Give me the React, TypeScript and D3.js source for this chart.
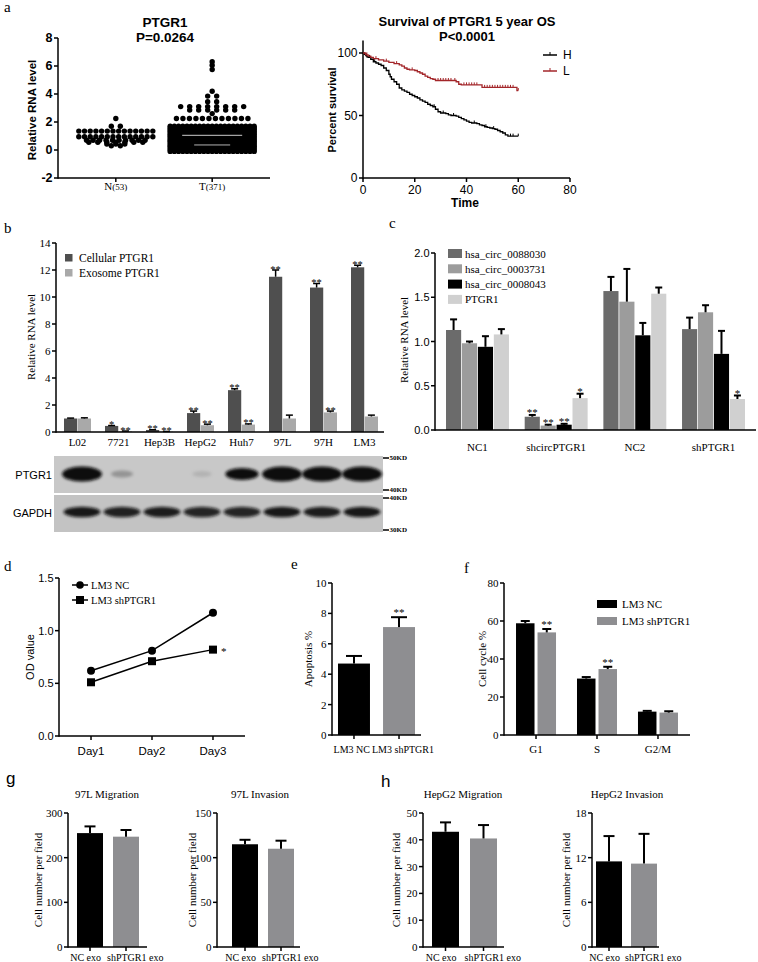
import React from "react";
import * as d3 from "d3";

const SERIF = "'Liberation Serif','Times New Roman',Times,serif";
const SANS = "'Liberation Sans',Arial,Helvetica,sans-serif";

/* ---------------- panel a (left) : scatter ---------------- */
const A_GROUPS = ["N", "T"];
const A_COUNTS = ["(53)", "(371)"];
const A_TICKS = [-2, 0, 2, 4, 6, 8];
// [value, number of dots read at that level]
const A_N_ROWS: [number, number][] = [
  [2.25, 1], [1.7, 2], [1.35, 14], [0.95, 14], [0.7, 10], [0.55, 7], [0.42, 3], [0.3, 2],
];
const A_T_ROWS: [number, number][] = [
  [6.3, 1], [6.05, 1], [5.75, 1], [4.2, 1], [3.85, 2], [3.45, 2], [3.1, 8], [2.85, 6], [2.6, 1], [2.25, 12],
  [1.7, 21], [1.58, 21], [1.46, 21], [1.34, 21], [1.22, 21], [1.1, 21], [0.98, 21], [0.86, 21],
  [0.74, 21], [0.62, 21], [0.5, 21], [0.38, 21], [0.26, 21], [0.14, 21], [0.02, 21], [-0.1, 21],
];

/* ---------------- panel a (right) : survival ---------------- */
const S_XTICKS = [0, 20, 40, 60, 80];
const S_YTICKS = [0, 50, 100];
const SURV_H: [number, number][] = [
  [0, 100], [0.5, 99], [1, 98], [1.5, 97], [2, 96.5], [3, 95], [4, 93], [5, 92], [6, 91], [7, 90], [8, 88], [9, 86],
  [10, 83], [10.5, 81], [11, 79], [12, 77], [13, 75], [14, 72], [15, 70.5], [16, 69.5], [17, 68.5], [18, 67], [19, 66],
  [20, 65], [21, 64], [22, 62.5], [23, 61.5], [24, 60.5], [25, 59], [26, 58], [27, 57], [28, 55], [29, 53], [30, 52],
  [32, 51.5], [33, 50.5], [34, 50], [36, 49.5], [37, 48.5], [38, 47.5], [39, 46.5], [40, 45.5], [41, 44.5], [42, 44],
  [44, 43.5], [45, 42.5], [46, 42], [47, 41], [48, 40.5], [49, 40], [50, 39.5], [51, 39], [52, 38], [53, 37], [54, 36],
  [55, 34.5], [56, 33.5], [60, 33.5],
];
const SURV_L: [number, number][] = [
  [0, 100], [1, 98.5], [2, 97.5], [3, 96.5], [4, 95.5], [6, 94.5], [8, 93.5], [10, 92.5], [12, 91.5], [14, 90.5],
  [15, 89.5], [16, 88], [17, 87], [18, 86.5], [20, 86], [21, 85], [22, 84], [23, 83], [24, 81.5], [25, 80.5],
  [26, 79.5], [27, 79], [28, 78], [35, 78], [36, 77], [37, 75], [38, 74.5], [45, 74.5], [46, 72.5], [59, 72.5],
  [59.5, 70], [60, 70],
];
const CENS_H = [1.2, 2.5, 4.5, 27.5, 31, 35, 43, 47.5, 50.5, 57, 58, 60];
const CENS_L = [1.5, 5, 9, 13, 19, 29, 30, 31, 32, 33, 34, 35.5, 39, 40, 41, 42, 43, 44, 47, 48, 49, 50, 51, 52, 53, 54, 55, 56, 57, 58, 60];
const S_LEGEND = ["H", "L"];

/* ---------------- panel b ---------------- */
const B_CELLS = ["L02", "7721", "Hep3B", "HepG2", "Huh7", "97L", "97H", "LM3"];
const B_SERIES = ["Cellular PTGR1", "Exosome PTGR1"];
const B_CELLULAR = [1.0, 0.45, 0.15, 1.4, 3.1, 11.5, 10.7, 12.2];
const B_CELLULAR_ERR = [0.03, 0.03, 0.02, 0.15, 0.1, 0.5, 0.3, 0.15];
const B_EXOSOME = [1.0, 0.05, 0.03, 0.5, 0.55, 1.0, 1.45, 1.15];
const B_EXOSOME_ERR = [0.05, 0.02, 0.01, 0.08, 0.05, 0.25, 0.1, 0.1];
const B_CELL_STARS = ["", "*", "**", "**", "**", "**", "**", "**"];
const B_EXO_STARS = ["", "**", "**", "**", "**", "", "**", ""];
const B_TICKS = [0, 2, 4, 6, 8, 10, 12, 14];
const BLOT_PTGR1 = [1, 0.2, 0, 0.08, 0.7, 1, 1, 1];
const BLOT_GAPDH = [0.95, 0.9, 0.92, 0.88, 0.88, 0.95, 0.92, 0.95];
const BLOT_MARKERS = ["50KD", "40KD", "40KD", "30KD"];

/* ---------------- panel c ---------------- */
const C_GROUPS = ["NC1", "shcircPTGR1", "NC2", "shPTGR1"];
const C_SERIES = ["hsa_circ_0088030", "hsa_circ_0003731", "hsa_circ_0008043", "PTGR1"];
const C_0088030 = [1.13, 0.15, 1.57, 1.14];
const C_0088030_ERR = [0.12, 0.02, 0.16, 0.13];
const C_0003731 = [0.98, 0.05, 1.45, 1.33];
const C_0003731_ERR = [0.02, 0.01, 0.37, 0.08];
const C_0008043 = [0.94, 0.06, 1.07, 0.86];
const C_0008043_ERR = [0.12, 0.01, 0.14, 0.26];
const C_PTGR1 = [1.08, 0.36, 1.54, 0.35];
const C_PTGR1_ERR = [0.06, 0.05, 0.07, 0.04];
const C_STARS = [
  ["", "**", "", ""],
  ["", "**", "", ""],
  ["", "**", "", ""],
  ["", "*", "", "*"],
];
const C_TICKS = [0, 0.5, 1.0, 1.5, 2.0];

/* ---------------- panel d ---------------- */
const D_DAYS = ["Day1", "Day2", "Day3"];
const D_SERIES = ["LM3 NC", "LM3 shPTGR1"];
const D_NC = [0.62, 0.81, 1.17];
const D_SH = [0.51, 0.71, 0.82];
const D_TICKS = [0, 0.5, 1.0, 1.5];

/* ---------------- panel e ---------------- */
const E_GROUPS = ["LM3 NC", "LM3 shPTGR1"];
const E_VALUES = [4.7, 7.1];
const E_ERR = [0.5, 0.65];
const E_STARS = ["", "**"];
const E_TICKS = [0, 2, 4, 6, 8, 10];

/* ---------------- panel f ---------------- */
const F_PHASES = ["G1", "S", "G2/M"];
const F_SERIES = ["LM3 NC", "LM3 shPTGR1"];
const F_NC = [58.8, 29.7, 12.3];
const F_NC_ERR = [1.2, 0.8, 0.4];
const F_SH = [54.0, 34.7, 11.8];
const F_SH_ERR = [1.8, 1.2, 0.7];
const F_STARS = ["**", "**", ""];
const F_TICKS = [0, 20, 40, 60, 80];

/* ---------------- panels g, h ---------------- */
const GH_GROUPS = ["NC exo", "shPTGR1 exo"];
const G_MIG = [255, 247];
const G_MIG_ERR = [15, 15];
const G_INV = [115, 110];
const G_INV_ERR = [5, 9];
const H_MIG = [43, 40.5];
const H_MIG_ERR = [3.5, 5];
const H_INV = [11.5, 11.2];
const H_INV_ERR = [3.4, 4.0];
const G_MIG_TICKS = [0, 100, 200, 300];
const G_INV_TICKS = [0, 50, 100, 150];
const H_MIG_TICKS = [0, 10, 20, 30, 40, 50];
const H_INV_TICKS = [0, 6, 12, 18];

/* ---------------- helpers ---------------- */
type Lin = d3.ScaleLinear<number, number>;

function YAxis(p: {
  x: number; y: Lin; ticks: number[]; fmt?: (t: number) => string; font?: string; size?: number;
  weight?: string | number; tick?: number; top?: number; sw?: number;
}) {
  const { x, y, ticks, fmt = (t) => String(t), font = SERIF, size = 11, weight = "normal", tick = 4, sw = 1.5 } = p;
  const [y0, y1] = y.range();
  return (
    <g>
      <line x1={x} x2={x} y1={y0 + sw / 2} y2={p.top ?? y1} stroke="#000" strokeWidth={sw} />
      {ticks.map((t) => (
        <g key={t}>
          <line x1={x - tick} x2={x} y1={y(t)} y2={y(t)} stroke="#000" strokeWidth={sw} />
          <text x={x - tick - 1.5} y={y(t)} textAnchor="end" dominantBaseline="central"
            fontFamily={font} fontSize={size} fontWeight={weight}>{fmt(t)}</text>
        </g>
      ))}
    </g>
  );
}

function ErrBar({ cx, y, v, e, cw, sw = 1.5 }: { cx: number; y: Lin; v: number; e: number; cw: number; sw?: number }) {
  return (
    <g stroke="#000" strokeWidth={sw}>
      <line x1={cx} x2={cx} y1={y(v)} y2={y(v + e)} />
      <line x1={cx - cw / 2} x2={cx + cw / 2} y1={y(v + e)} y2={y(v + e)} />
    </g>
  );
}

function VLabel({ x, y, text, font = SERIF, size = 11, weight = "normal" }:
  { x: number; y: number; text: string; font?: string; size?: number; weight?: string | number }) {
  return (
    <text transform={`translate(${x},${y}) rotate(-90)`} textAnchor="middle" dominantBaseline="central"
      fontFamily={font} fontSize={size} fontWeight={weight}>{text}</text>
  );
}

function Letter({ x, y, t, font = SERIF, size = 15 }: { x: number; y: number; t: string; font?: string; size?: number }) {
  return <text x={x} y={y} fontFamily={font} fontSize={size}>{t}</text>;
}

/* ---------------- panel a left ---------------- */
function PanelA1() {
  const y = d3.scaleLinear().domain([-2, 8]).range([178, 38]);
  const x = d3.scalePoint<string>().domain(A_GROUPS).range([58, 270]).padding(0.6);
  const dots: [number, number][] = [];
  [A_N_ROWS, A_T_ROWS].forEach((rows, gi) => {
    const cx = x(A_GROUPS[gi])!;
    const maxW = gi === 0 ? 74 : 84;
    rows.forEach(([v, n]) => {
      const sp = n > 1 ? Math.min(n <= 8 ? 9 : 6.5, maxW / (n - 1)) : 0;
      for (let i = 0; i < n; i++) dots.push([cx + (i - (n - 1) / 2) * sp, y(v)]);
    });
  });
  const tx = x("T")!;
  return (
    <g>
      <text x={165} y={27} textAnchor="middle" fontFamily={SANS} fontWeight="bold" fontSize={13.5}>PTGR1</text>
      <text x={165} y={42} textAnchor="middle" fontFamily={SANS} fontWeight="bold" fontSize={13.5}>P=0.0264</text>
      <YAxis x={58} y={y} ticks={A_TICKS} font={SANS} size={12.5} weight="bold" sw={1.5} />
      <line x1={58} x2={270} y1={178} y2={178} stroke="#000" strokeWidth={1.5} />
      {A_GROUPS.map((g, i) => (
        <g key={g}>
          <line x1={x(g)} x2={x(g)} y1={178} y2={182} stroke="#000" strokeWidth={1.5} />
          <text x={x(g)} y={190} textAnchor="middle" fontFamily={SERIF} fontSize={11}>
            {g}<tspan fontSize={9}>{A_COUNTS[i]}</tspan>
          </text>
        </g>
      ))}
      {dots.map((d, i) => <circle key={i} cx={d[0]} cy={d[1]} r={2.7} fill="#000" />)}
      <line x1={tx - 30} x2={tx + 30} y1={y(1.05)} y2={y(1.05)} stroke="#fff" strokeWidth={1} opacity={0.8} />
      <line x1={tx - 18} x2={tx + 18} y1={y(0.36)} y2={y(0.36)} stroke="#fff" strokeWidth={1} opacity={0.7} />
      <VLabel x={32} y={110} text="Relative RNA level" font={SANS} size={11.5} weight="bold" />
    </g>
  );
}

/* ---------------- panel a right ---------------- */
function survAt(steps: [number, number][], t: number) {
  let s = steps[0][1];
  for (const [tt, ss] of steps) if (tt <= t) s = ss;
  return s;
}

function PanelA2() {
  const x = d3.scaleLinear().domain([0, 80]).range([363, 570]);
  const y = d3.scaleLinear().domain([0, 110]).range([178, 40.5]);
  const line = d3.line<[number, number]>().x((d) => x(d[0])).y((d) => y(d[1])).curve(d3.curveStepAfter);
  const curves = [
    { data: SURV_H, cens: CENS_H, color: "#000" },
    { data: SURV_L, cens: CENS_L, color: "#a3262a" },
  ];
  return (
    <g>
      <text x={467} y={26} textAnchor="middle" fontFamily={SANS} fontWeight="bold" fontSize={13}>Survival of PTGR1 5 year OS</text>
      <text x={467} y={41} textAnchor="middle" fontFamily={SANS} fontWeight="bold" fontSize={13}>P&lt;0.0001</text>
      <YAxis x={363} y={y} ticks={S_YTICKS} font={SANS} size={12} top={40.5} />
      <line x1={363} x2={570} y1={178} y2={178} stroke="#000" strokeWidth={1.5} />
      {S_XTICKS.map((t) => (
        <g key={t}>
          <line x1={x(t)} x2={x(t)} y1={178} y2={182} stroke="#000" strokeWidth={1.5} />
          <text x={x(t)} y={190} textAnchor="middle" dominantBaseline="central" fontFamily={SANS} fontSize={12}>{t}</text>
        </g>
      ))}
      {curves.map((c, i) => (
        <g key={i}>
          <path d={line(c.data)!} fill="none" stroke={c.color} strokeWidth={1.3} />
          {c.cens.map((t, j) => (
            <line key={j} x1={x(t)} x2={x(t)} y1={y(survAt(c.data, t)) - 2.5} y2={y(survAt(c.data, t))}
              stroke={c.color} strokeWidth={1} />
          ))}
        </g>
      ))}
      {S_LEGEND.map((l, i) => (
        <g key={l}>
          <line x1={543} x2={557} y1={55 + i * 16} y2={55 + i * 16} stroke={curves[i].color} strokeWidth={1.5} />
          <line x1={550} x2={550} y1={52 + i * 16} y2={55 + i * 16} stroke={curves[i].color} strokeWidth={1} />
          <text x={563} y={55 + i * 16} dominantBaseline="central" fontFamily={SANS} fontSize={12}>{l}</text>
        </g>
      ))}
      <text x={465} y={207} textAnchor="middle" fontFamily={SANS} fontWeight="bold" fontSize={12}>Time</text>
      <VLabel x={332} y={110} text="Percent survival" font={SANS} size={11} weight="bold" />
    </g>
  );
}

/* ---------------- panel b ---------------- */
function PanelB() {
  const y = d3.scaleLinear().domain([0, 14]).range([432, 243]);
  const x = d3.scaleBand<string>().domain(B_CELLS).range([56, 386]).paddingInner(0.3415).paddingOuter(0.195);
  const xi = d3.scaleBand<string>().domain(B_SERIES).range([0, x.bandwidth()]).paddingInner(0.04);
  const colors = ["#4f4f4f", "#a9a9a9"];
  const series = [
    { v: B_CELLULAR, e: B_CELLULAR_ERR, s: B_CELL_STARS },
    { v: B_EXOSOME, e: B_EXOSOME_ERR, s: B_EXO_STARS },
  ];
  const lane = d3.scaleBand<string>().domain(B_CELLS).range([62, 382]);
  return (
    <g>
      {B_CELLS.map((c, i) => (
        <g key={c}>
          {series.map((s, k) => {
            const bx = x(c)! + xi(B_SERIES[k])!;
            const cx = bx + xi.bandwidth() / 2;
            return (
              <g key={k}>
                <rect x={bx} y={y(s.v[i])} width={xi.bandwidth()} height={y(0) - y(s.v[i])} fill={colors[k]} />
                <ErrBar cx={cx} y={y} v={s.v[i]} e={s.e[i]} cw={7} />
                {s.s[i] && (
                  <text x={cx} y={y(s.v[i] + s.e[i]) + 2.5} textAnchor="middle" fontFamily={SERIF} fontSize={10.5}>{s.s[i]}</text>
                )}
              </g>
            );
          })}
          <text x={x(c)! + x.bandwidth() / 2} y={446} textAnchor="middle" fontFamily={SERIF} fontSize={11}>{c}</text>
        </g>
      ))}
      <YAxis x={56} y={y} ticks={B_TICKS} size={11} />
      <line x1={56} x2={384} y1={432} y2={432} stroke="#000" strokeWidth={1.5} />
      {B_SERIES.map((s, k) => (
        <g key={s}>
          <rect x={65} y={254 + k * 15} width={7.5} height={7.5} fill={colors[k]} />
          <text x={79} y={258 + k * 15} dominantBaseline="central" fontFamily={SERIF} fontSize={11.5}>{s}</text>
        </g>
      ))}
      <VLabel x={31} y={337} text="Relative RNA level" size={11} />
      {/* western blot */}
      <defs>
        <filter id="bl" x="-30%" y="-80%" width="160%" height="260%">
          <feGaussianBlur stdDeviation="1.6" />
        </filter>
      </defs>
      <rect x={54} y={456} width={329} height={37} fill="#c8c8c8" />
      <rect x={54} y={495} width={329} height={37} fill="#c3c3c3" />
      {B_CELLS.map((c, i) => {
        const cx = lane(c)! + lane.bandwidth() / 2;
        const a = BLOT_PTGR1[i];
        const g = BLOT_GAPDH[i];
        return (
          <g key={c} filter="url(#bl)">
            {a > 0 && (
              <ellipse cx={cx} cy={474} rx={9 + 11 * a} ry={2.5 + 5 * a} fill="#0d0d0d" opacity={a < 0.5 ? a * 1.3 : 1} />
            )}
            <ellipse cx={cx} cy={512} rx={18.5} ry={5.2} fill="#111" opacity={g} />
          </g>
        );
      })}
      <text x={52} y={475} textAnchor="end" dominantBaseline="central" fontFamily={SANS} fontSize={11}>PTGR1</text>
      <text x={52} y={513} textAnchor="end" dominantBaseline="central" fontFamily={SANS} fontSize={11}>GAPDH</text>
      {BLOT_MARKERS.map((m, i) => {
        const yy = [458, 490, 498, 530][i];
        return (
          <g key={i}>
            <line x1={383} x2={389} y1={yy} y2={yy} stroke="#000" strokeWidth={1.5} />
            <text x={389.5} y={yy} dominantBaseline="central" fontFamily={SERIF} fontSize={7} fontWeight="bold">{m}</text>
          </g>
        );
      })}
    </g>
  );
}

/* ---------------- panel c ---------------- */
function PanelC() {
  const y = d3.scaleLinear().domain([0, 2]).range([430, 253]);
  const x = d3.scaleBand<string>().domain(C_GROUPS).range([435, 756]).paddingInner(0.2).paddingOuter(0.14);
  const xi = d3.scaleBand<string>().domain(C_SERIES).range([0, x.bandwidth()]).paddingInner(0.05);
  const colors = ["#6b6b6b", "#9c9c9c", "#000000", "#d0d0d0"];
  const vals = [C_0088030, C_0003731, C_0008043, C_PTGR1];
  const errs = [C_0088030_ERR, C_0003731_ERR, C_0008043_ERR, C_PTGR1_ERR];
  return (
    <g>
      {C_GROUPS.map((g, i) => (
        <g key={g}>
          {C_SERIES.map((s, k) => {
            const bx = x(g)! + xi(s)!;
            const cx = bx + xi.bandwidth() / 2;
            const v = vals[k][i];
            const e = errs[k][i];
            return (
              <g key={s}>
                <rect x={bx} y={y(v)} width={xi.bandwidth()} height={y(0) - y(v)} fill={colors[k]} />
                <ErrBar cx={cx} y={y} v={v} e={e} cw={7} sw={2} />
                {C_STARS[k][i] && (
                  <text x={cx} y={y(v + e) + 1.5} textAnchor="middle" fontFamily={SERIF} fontSize={11}>{C_STARS[k][i]}</text>
                )}
              </g>
            );
          })}
          <text x={x(g)! + x.bandwidth() / 2} y={451} textAnchor="middle" fontFamily={SERIF} fontSize={11}>{g}</text>
        </g>
      ))}
      <YAxis x={435} y={y} ticks={C_TICKS} fmt={(t) => t.toFixed(1)} font={SANS} size={11} />
      <line x1={435} x2={756} y1={430} y2={430} stroke="#000" strokeWidth={1.5} />
      {C_SERIES.map((s, k) => (
        <g key={s}>
          <rect x={448} y={249 + k * 15.3} width={14} height={9} fill={colors[k]} />
          <text x={465} y={253.5 + k * 15.3} dominantBaseline="central" fontFamily={SERIF} fontSize={11}>{s}</text>
        </g>
      ))}
      <VLabel x={404} y={340} text="Relative RNA level" size={11} />
    </g>
  );
}

/* ---------------- panel d ---------------- */
function PanelD() {
  const y = d3.scaleLinear().domain([0, 1.5]).range([736, 578]);
  const x = d3.scalePoint<string>().domain(D_DAYS).range([59, 245]).padding(0.525);
  const line = d3.line<number>().x((_, i) => x(D_DAYS[i])!).y((d) => y(d));
  return (
    <g>
      <YAxis x={59} y={y} ticks={D_TICKS} fmt={(t) => t.toFixed(1)} font={SANS} size={11} />
      <line x1={59} x2={245} y1={736} y2={736} stroke="#000" strokeWidth={1.5} />
      {D_DAYS.map((d) => (
        <g key={d}>
          <line x1={x(d)} x2={x(d)} y1={736} y2={740} stroke="#000" strokeWidth={1.5} />
          <text x={x(d)} y={751} textAnchor="middle" dominantBaseline="central" fontFamily={SANS} fontSize={11.5}>{d}</text>
        </g>
      ))}
      <path d={line(D_NC)!} fill="none" stroke="#000" strokeWidth={1.5} />
      <path d={line(D_SH)!} fill="none" stroke="#000" strokeWidth={1.5} />
      {D_NC.map((v, i) => <circle key={i} cx={x(D_DAYS[i])} cy={y(v)} r={4} fill="#000" />)}
      {D_SH.map((v, i) => <rect key={i} x={x(D_DAYS[i])! - 4} y={y(v) - 4} width={8} height={8} fill="#000" />)}
      <text x={x("Day3")! + 8} y={y(D_SH[2]) + 1} dominantBaseline="central" fontFamily={SERIF} fontSize={11}>*</text>
      {D_SERIES.map((s, k) => (
        <g key={s}>
          <line x1={72} x2={88} y1={585 + k * 15} y2={585 + k * 15} stroke="#000" strokeWidth={1.5} />
          {k === 0 ? <circle cx={80} cy={585} r={3.8} fill="#000" /> : <rect x={76} y={596} width={8} height={8} fill="#000" />}
          <text x={91} y={585 + k * 15} dominantBaseline="central" fontFamily={SERIF} fontSize={10.5}>{s}</text>
        </g>
      ))}
      <VLabel x={30} y={657} text="OD value" font={SANS} size={11} />
    </g>
  );
}

/* ---------------- panel e ---------------- */
function PanelE() {
  const y = d3.scaleLinear().domain([0, 10]).range([735, 583]);
  const x = d3.scaleBand<string>().domain(E_GROUPS).range([332, 421]).paddingInner(0.29).paddingOuter(0.133);
  const colors = ["#000", "#8e8e91"];
  return (
    <g>
      {E_GROUPS.map((g, i) => {
        const cx = x(g)! + x.bandwidth() / 2;
        return (
          <g key={g}>
            <rect x={x(g)} y={y(E_VALUES[i])} width={x.bandwidth()} height={y(0) - y(E_VALUES[i])} fill={colors[i]} />
            <ErrBar cx={cx} y={y} v={E_VALUES[i]} e={E_ERR[i]} cw={16} sw={2} />
            {E_STARS[i] && (
              <text x={cx} y={y(E_VALUES[i] + E_ERR[i]) - 1} textAnchor="middle" fontFamily={SERIF} fontSize={11}>{E_STARS[i]}</text>
            )}
            <line x1={cx} x2={cx} y1={735} y2={739} stroke="#000" strokeWidth={1.5} />
            <text x={i === 0 ? cx + 16 : cx - 27} y={749} textAnchor={i === 0 ? "end" : "start"}
              dominantBaseline="central" fontFamily={SERIF} fontSize={10}>{g}</text>
          </g>
        );
      })}
      <YAxis x={332} y={y} ticks={E_TICKS} size={11} />
      <line x1={332} x2={421} y1={735} y2={735} stroke="#000" strokeWidth={1.5} />
      <VLabel x={308} y={659} text="Apoptosis %" size={11} />
    </g>
  );
}

/* ---------------- panel f ---------------- */
function PanelF() {
  const y = d3.scaleLinear().domain([0, 80]).range([735, 583]);
  const x = d3.scaleBand<string>().domain(F_PHASES).range([504, 690]).paddingInner(0.344).paddingOuter(0.197);
  const xi = d3.scaleBand<string>().domain(F_SERIES).range([0, x.bandwidth()]).paddingInner(0.14);
  const colors = ["#000", "#8e8e91"];
  const series = [
    { v: F_NC, e: F_NC_ERR },
    { v: F_SH, e: F_SH_ERR },
  ];
  return (
    <g>
      {F_PHASES.map((p, i) => (
        <g key={p}>
          {series.map((s, k) => {
            const bx = x(p)! + xi(F_SERIES[k])!;
            const cx = bx + xi.bandwidth() / 2;
            return (
              <g key={k}>
                <rect x={bx} y={y(s.v[i])} width={xi.bandwidth()} height={y(0) - y(s.v[i])} fill={colors[k]} />
                <ErrBar cx={cx} y={y} v={s.v[i]} e={s.e[i]} cw={9} sw={2} />
                {k === 1 && F_STARS[i] && (
                  <text x={cx} y={y(s.v[i] + s.e[i]) - 1} textAnchor="middle" fontFamily={SERIF} fontSize={11}>{F_STARS[i]}</text>
                )}
              </g>
            );
          })}
          <line x1={x(p)! + x.bandwidth() / 2} x2={x(p)! + x.bandwidth() / 2} y1={735} y2={739} stroke="#000" strokeWidth={1.5} />
          <text x={x(p)! + x.bandwidth() / 2} y={749} textAnchor="middle" dominantBaseline="central" fontFamily={SERIF} fontSize={11}>{p}</text>
        </g>
      ))}
      <YAxis x={504} y={y} ticks={F_TICKS} size={11} />
      <line x1={504} x2={690} y1={735} y2={735} stroke="#000" strokeWidth={1.5} />
      {F_SERIES.map((s, k) => (
        <g key={s}>
          <rect x={597} y={600 + k * 17} width={20} height={8} fill={colors[k]} />
          <text x={622} y={604 + k * 17} dominantBaseline="central" fontFamily={SERIF} fontSize={11}>{s}</text>
        </g>
      ))}
      <VLabel x={482} y={659} text="Cell cycle %" size={11} />
    </g>
  );
}

/* ---------------- panels g, h ---------------- */
function SmallBars(p: {
  axisX: number; first: number; w: number; gap: number; end: number; max: number; ticks: number[];
  vals: number[]; errs: number[]; title: string; titleX: number; labelX: number;
}) {
  const y = d3.scaleLinear().domain([0, p.max]).range([947, 813]);
  const x = d3.scaleBand<string>().domain(GH_GROUPS).range([p.first, p.first + 2 * p.w + p.gap])
    .paddingInner(p.gap / (p.w + p.gap)).paddingOuter(0);
  const colors = ["#000", "#8e8e91"];
  return (
    <g>
      <text x={p.titleX} y={798} textAnchor="middle" fontFamily={SERIF} fontSize={11}>{p.title}</text>
      {GH_GROUPS.map((g, i) => {
        const cx = x(g)! + x.bandwidth() / 2;
        return (
          <g key={g}>
            <rect x={x(g)} y={y(p.vals[i])} width={x.bandwidth()} height={y(0) - y(p.vals[i])} fill={colors[i]} />
            <ErrBar cx={cx} y={y} v={p.vals[i]} e={p.errs[i]} cw={11} sw={2} />
            <line x1={cx} x2={cx} y1={947} y2={951} stroke="#000" strokeWidth={1.5} />
            <text x={i === 0 ? cx + 11 : cx - 19} y={957} textAnchor={i === 0 ? "end" : "start"}
              dominantBaseline="central" fontFamily={SERIF} fontSize={10}>{g}</text>
          </g>
        );
      })}
      <YAxis x={p.axisX} y={y} ticks={p.ticks} size={11} />
      <line x1={p.axisX} x2={p.end} y1={947} y2={947} stroke="#000" strokeWidth={1.5} />
      <VLabel x={p.labelX} y={880} text="Cell number per field" size={11} />
    </g>
  );
}

export default function App() {
  return (
    <svg width={758} height={962} viewBox="0 0 758 962" style={{ position: "absolute", left: 0, top: 0, background: "#fff" }}>
      <rect x={0} y={0} width={758} height={962} fill="#fff" />
      <Letter x={4} y={12} t="a" />
      <PanelA1 />
      <PanelA2 />
      <Letter x={4} y={233} t="b" />
      <PanelB />
      <Letter x={389} y={228} t="c" />
      <PanelC />
      <Letter x={4} y={571} t="d" />
      <PanelD />
      <Letter x={291} y={569} t="e" />
      <PanelE />
      <Letter x={464} y={573} t="f" />
      <PanelF />
      <Letter x={6} y={784} t="g" font={SANS} size={17} />
      <Letter x={381} y={787} t="h" font={SANS} size={17} />
      <SmallBars axisX={68} first={77} w={26} gap={10} end={147} max={300} ticks={G_MIG_TICKS}
        vals={G_MIG} errs={G_MIG_ERR} title="97L Migration" titleX={107} labelX={38} />
      <SmallBars axisX={217} first={232} w={26} gap={10} end={300} max={150} ticks={G_INV_TICKS}
        vals={G_INV} errs={G_INV_ERR} title="97L Invasion" titleX={260} labelX={192} />
      <SmallBars axisX={423} first={432} w={27} gap={11} end={504} max={50} ticks={H_MIG_TICKS}
        vals={H_MIG} errs={H_MIG_ERR} title="HepG2 Migration" titleX={463} labelX={396} />
      <SmallBars axisX={592} first={596} w={26} gap={9} end={659} max={18} ticks={H_INV_TICKS}
        vals={H_INV} errs={H_INV_ERR} title="HepG2 Invasion" titleX={627} labelX={566} />
    </svg>
  );
}
